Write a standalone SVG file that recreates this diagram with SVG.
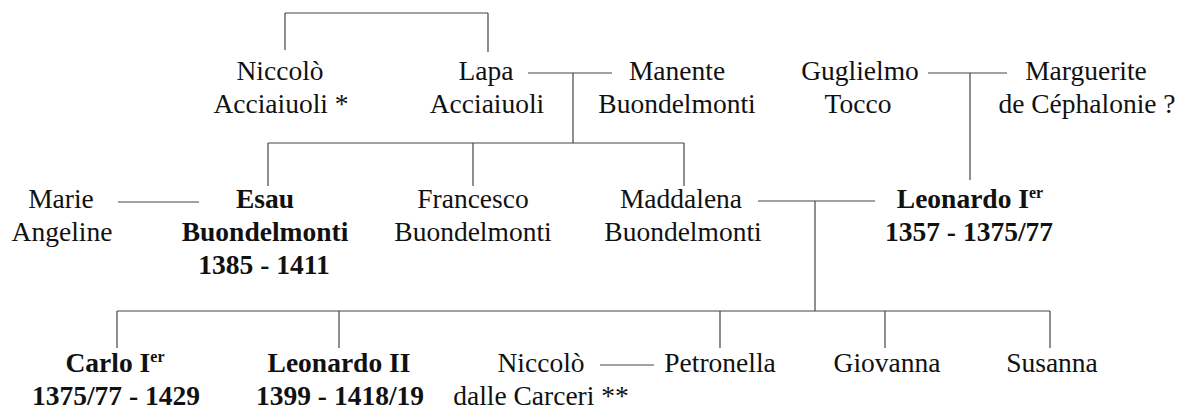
<svg xmlns="http://www.w3.org/2000/svg" width="1187" height="410" viewBox="0 0 1187 410">
<style>
text{font-family:"Liberation Serif","Times New Roman",serif;font-size:27.5px;fill:#111;text-anchor:middle}
.b{font-weight:bold}
.sup{font-size:16px}
#connectors line{stroke:#444;stroke-width:1.2;fill:none}
</style>
<rect width="1187" height="410" fill="#fff"/>
<g id="connectors">
<line x1="285" y1="13" x2="488" y2="13"/>
<line x1="285" y1="13" x2="285" y2="50"/>
<line x1="488" y1="13" x2="488" y2="52"/>
<line x1="528" y1="73" x2="612" y2="73"/>
<line x1="573" y1="73" x2="573" y2="143"/>
<line x1="928" y1="73" x2="1007" y2="73"/>
<line x1="970" y1="73" x2="970" y2="180"/>
<line x1="268" y1="143" x2="684" y2="143"/>
<line x1="268" y1="143" x2="268" y2="186"/>
<line x1="473" y1="143" x2="473" y2="186"/>
<line x1="684" y1="143" x2="684" y2="186"/>
<line x1="118" y1="202" x2="199" y2="202"/>
<line x1="758" y1="201" x2="875" y2="201"/>
<line x1="815" y1="201" x2="815" y2="311"/>
<line x1="117" y1="311" x2="1050" y2="311"/>
<line x1="117" y1="311" x2="117" y2="348"/>
<line x1="339" y1="311" x2="339" y2="348"/>
<line x1="720" y1="311" x2="720" y2="348"/>
<line x1="885" y1="311" x2="885" y2="348"/>
<line x1="1050" y1="311" x2="1050" y2="348"/>
<line x1="600" y1="365" x2="654" y2="365"/>
</g>
<g id="niccolo-acciaiuoli"><text x="280" y="80">Niccolò</text><text x="281" y="113">Acciaiuoli *</text></g>
<g id="lapa-acciaiuoli"><text x="486" y="80">Lapa</text><text x="487" y="113">Acciaiuoli</text></g>
<g id="manente-buondelmonti"><text x="677" y="80">Manente</text><text x="677" y="113">Buondelmonti</text></g>
<g id="guglielmo-tocco"><text x="860" y="80">Guglielmo</text><text x="858" y="113">Tocco</text></g>
<g id="marguerite"><text x="1086" y="80">Marguerite</text><text x="1087" y="113">de Céphalonie ?</text></g>
<g id="marie-angeline"><text x="61" y="208">Marie</text><text x="62" y="241">Angeline</text></g>
<g id="esau"><text class="b" x="265" y="208">Esau</text><text class="b" x="265" y="241">Buondelmonti</text><text class="b" x="264" y="274">1385 - 1411</text></g>
<g id="francesco"><text x="473" y="208">Francesco</text><text x="473" y="241">Buondelmonti</text></g>
<g id="maddalena"><text x="681" y="208">Maddalena</text><text x="683" y="241">Buondelmonti</text></g>
<g id="leonardo-i"><text class="b" x="970" y="208">Leonardo I<tspan class="sup" dy="-10">er</tspan></text><text class="b" x="969" y="241">1357 - 1375/77</text></g>
<g id="carlo-i"><text class="b" x="115" y="372">Carlo I<tspan class="sup" dy="-10">er</tspan></text><text class="b" x="116" y="405">1375/77 - 1429</text></g>
<g id="leonardo-ii"><text class="b" x="339" y="372">Leonardo II</text><text class="b" x="340" y="405">1399 - 1418/19</text></g>
<g id="niccolo-carceri"><text x="541" y="372">Niccolò</text><text x="541" y="405">dalle Carceri **</text></g>
<g id="petronella"><text x="720" y="372">Petronella</text></g>
<g id="giovanna"><text x="887" y="372">Giovanna</text></g>
<g id="susanna"><text x="1052" y="372">Susanna</text></g>
</svg>
